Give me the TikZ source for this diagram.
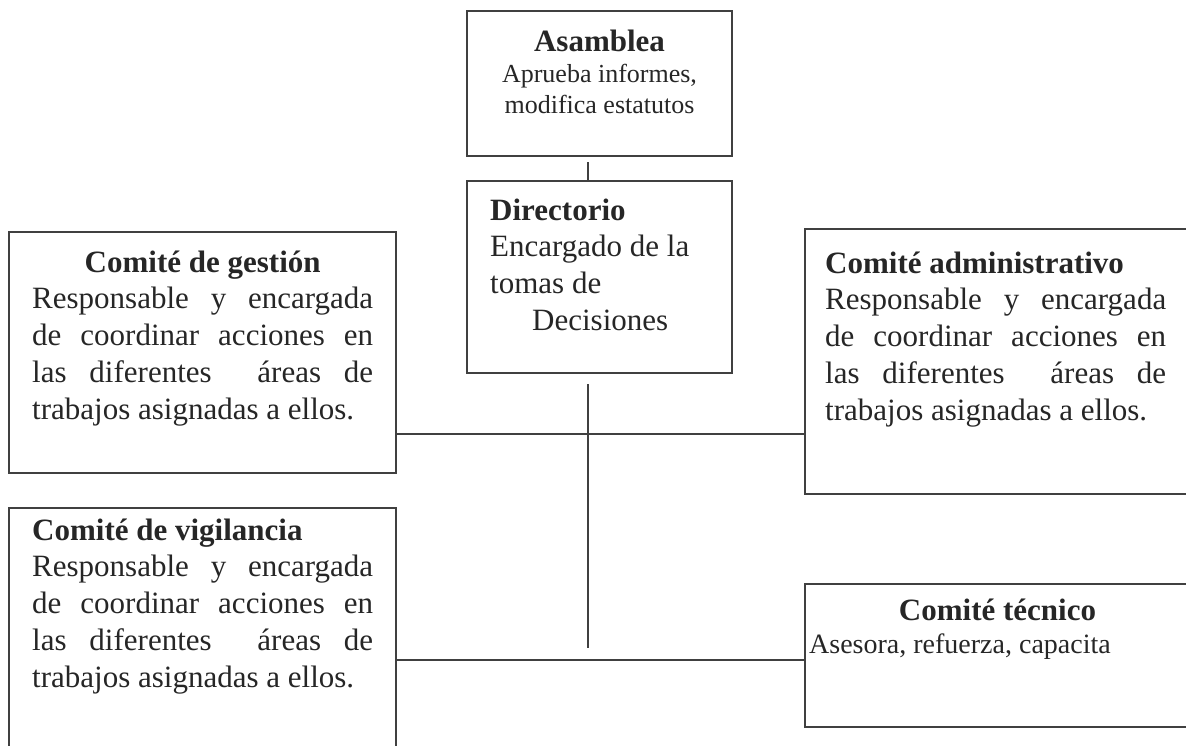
\documentclass[tikz,border=0pt]{standalone}
\usepackage{fontspec}
\setmainfont{Liberation Serif}
\usepackage{tikz}

\newcommand{\jline}[1]{\makebox[341pt][s]{#1}}
\newcommand{\topline}{\rule{0pt}{25pt}}

\begin{document}
\begin{tikzpicture}[x=1pt,y=-1pt]
\tikzset{vertex/.style = {shape=rectangle,draw=black!75,line width=1.2pt,inner sep=0pt}}
\tikzset{edge/.style = {draw=black!75,line width=1.2pt}}
\tikzset{txt/.style = {inner sep=0pt,align=left,text=black!85,font=\fontsize{31}{36.7}\selectfont}}
\tikzset{small/.style = {txt,font=\fontsize{26}{31}\selectfont}}
\clip (0,0) rectangle (1186,745);
% vertices
\node[vertex,minimum width=265pt,minimum height=145pt] (a) at (599.5,83.5) {};
\node[vertex,minimum width=265pt,minimum height=192pt] (b) at (599.5,277) {};
\node[vertex,minimum width=387pt,minimum height=241pt] (c) at (202.5,352.5) {};
\node[vertex,minimum width=385pt,minimum height=265pt] (d) at (997.5,361.5) {};
\node[vertex,minimum width=387pt,minimum height=292pt] (e) at (202.5,654) {};
\node[vertex,minimum width=385pt,minimum height=143pt] (f) at (997.5,655.5) {};

% texts
\node[txt,anchor=base] (a1) at (599.5,51) {\bfseries Asamblea};
\node[small,align=center,anchor=north] (a2) at (599.5,61) {\rule{0pt}{21pt}Aprueba informes,\\modifica estatutos};
\node[txt,anchor=north west] (b1) at (490,195) {\topline\bfseries Directorio\\Encargado de la\\tomas de\\\hspace*{42pt}Decisiones};
\node[txt,anchor=north west] (c1) at (32,247) {\topline\makebox[341pt][c]{\bfseries Comité de gestión}\\
  \jline{Responsable y encargada}\\\jline{de coordinar acciones en}\\
  \jline{las diferentes\ \ áreas de}\\trabajos asignadas a ellos.};
\node[txt,anchor=north west] (d1) at (825,248) {\topline\bfseries Comité administrativo\\
  \jline{Responsable y encargada}\\\jline{de coordinar acciones en}\\
  \jline{las diferentes\ \ áreas de}\\trabajos asignadas a ellos.};
\node[txt,anchor=north west] (e1) at (32,515) {\topline\bfseries Comité de vigilancia\\
  \jline{Responsable y encargada}\\\jline{de coordinar acciones en}\\
  \jline{las diferentes\ \ áreas de}\\trabajos asignadas a ellos.};
\node[txt,anchor=base] (f1) at (997.5,620) {\bfseries Comité técnico};
\node[txt,font=\fontsize{28}{33}\selectfont,anchor=base west] (f2) at (809,653) {Asesora, refuerza, capacita};

%edges
\coordinate (t) at (588,162);
\coordinate (u) at (588,384);
\coordinate (v) at (588,648);
\coordinate (h1) at (0,434);
\coordinate (h2) at (0,660);
\draw[edge] (t) -- (t |- b.north);
\draw[edge] (u) -- (v);
\draw[edge] (c.east |- h1) -- (d.west |- h1);
\draw[edge] (e.east |- h2) -- (f.west |- h2);
\end{tikzpicture}
\end{document}
